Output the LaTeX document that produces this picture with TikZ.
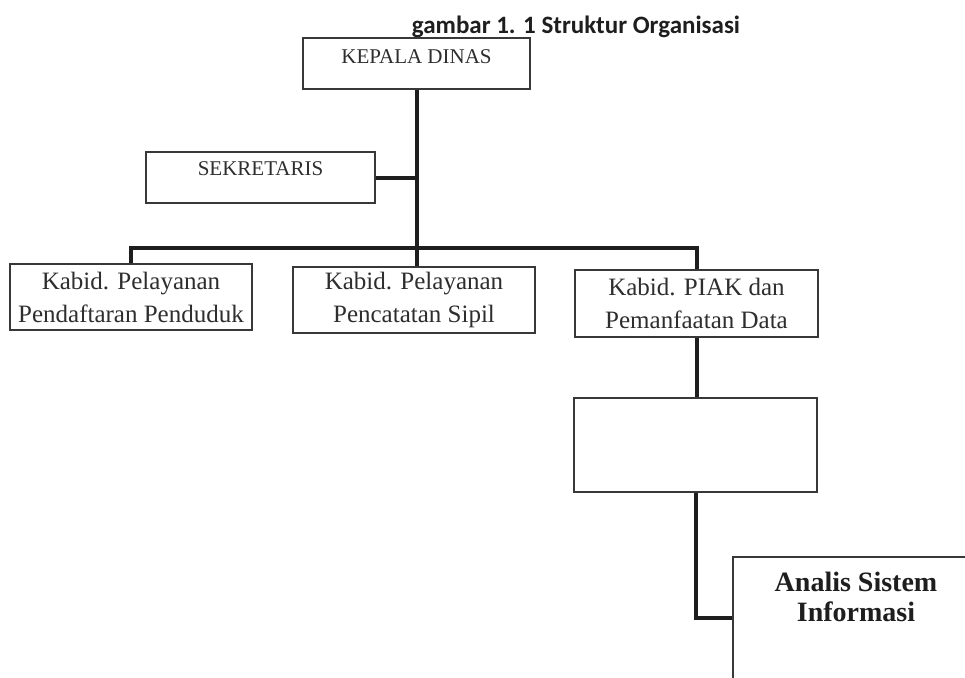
\documentclass[tikz,border=0pt]{standalone}
\usepackage{tikz}
\usepackage{xcolor}
\usepackage{fontspec}
\setmainfont{Liberation Serif}
\newfontfamily\titrefont{Carlito}
\usetikzlibrary{positioning}
\definecolor{colorTrait}{HTML}{1E1E1E}
\definecolor{colorCadre}{HTML}{383838}
\definecolor{colorTexte}{HTML}{2E2E2E}
\def\colorTrait{colorTrait}
\def\colorCadre{colorCadre}
\def\colorTexte{colorTexte}

\begin{document}
\begin{tikzpicture}[x=0.5pt,y=-0.5pt,
  boite/.style={draw=\colorCadre, line width=0.9pt, inner sep=0pt,
    align=center, text=\colorTexte,
    font=\fontsize{12.5}{16.5}\selectfont},
  chef/.style={boite, font=\fontsize{10.5}{12}\selectfont},
  lien/.style={draw=\colorTrait, line width=2pt}]

% Cadre de la page
\clip (0,0) rectangle (965,677);
\fill[white] (0,0) rectangle (965,677);

% Titre
\node[text=\colorTrait] (titre) at (576,27)
  {\titrefont\bfseries\fontsize{12.5}{14}\selectfont gambar 1. 1 Struktur Organisasi};

% Les cadres
\node[chef, minimum width=113.5pt, text height=12.5pt, text depth=13pt]
  (kepala) at (416.5,63.5) {KEPALA DINAS};
\node[chef, minimum width=114.5pt, text height=11.5pt, text depth=14pt]
  (sekretaris) at (260.5,177.5) {SEKRETARIS};
\node[boite, minimum width=121pt, minimum height=33pt]
  (pendaftaran) at (131,297) {Kabid. Pelayanan\\Pendaftaran Penduduk};
\node[boite, minimum width=121pt, minimum height=33pt]
  (pencatatan) at (414,300) {Kabid. Pelayanan\\Pencatatan Sipil};
\node[boite, minimum width=121.5pt, minimum height=33.5pt]
  (piak) at (696.5,303.5) {Kabid. PIAK dan\\Pemanfaatan Data};
\node[boite, minimum width=121.5pt, minimum height=47pt]
  (kosong) at (695.5,445) {};
\node[boite, minimum width=123.5pt, minimum height=61pt]
  (analis) at (856.5,618) {};
\node[text=\colorTrait, align=center, font=\bfseries\fontsize{14}{15}\selectfont]
  (analisTexte) at (856,597) {Analis Sistem\\Informasi};

% Les liaisons
\coordinate (bus) at (416.5,248);
\draw[lien] (kepala.south) -- (kepala.south |- pencatatan.north);
\draw[lien] (sekretaris.east) -- (sekretaris.east -| kepala.south);
\draw[lien] (pendaftaran.north) |- (bus) -| (piak.north);
\draw[lien] (piak.south) -- (piak.south |- kosong.north);
\draw[lien] (kosong.south) |- (analis.west);

\end{tikzpicture}
\end{document}
